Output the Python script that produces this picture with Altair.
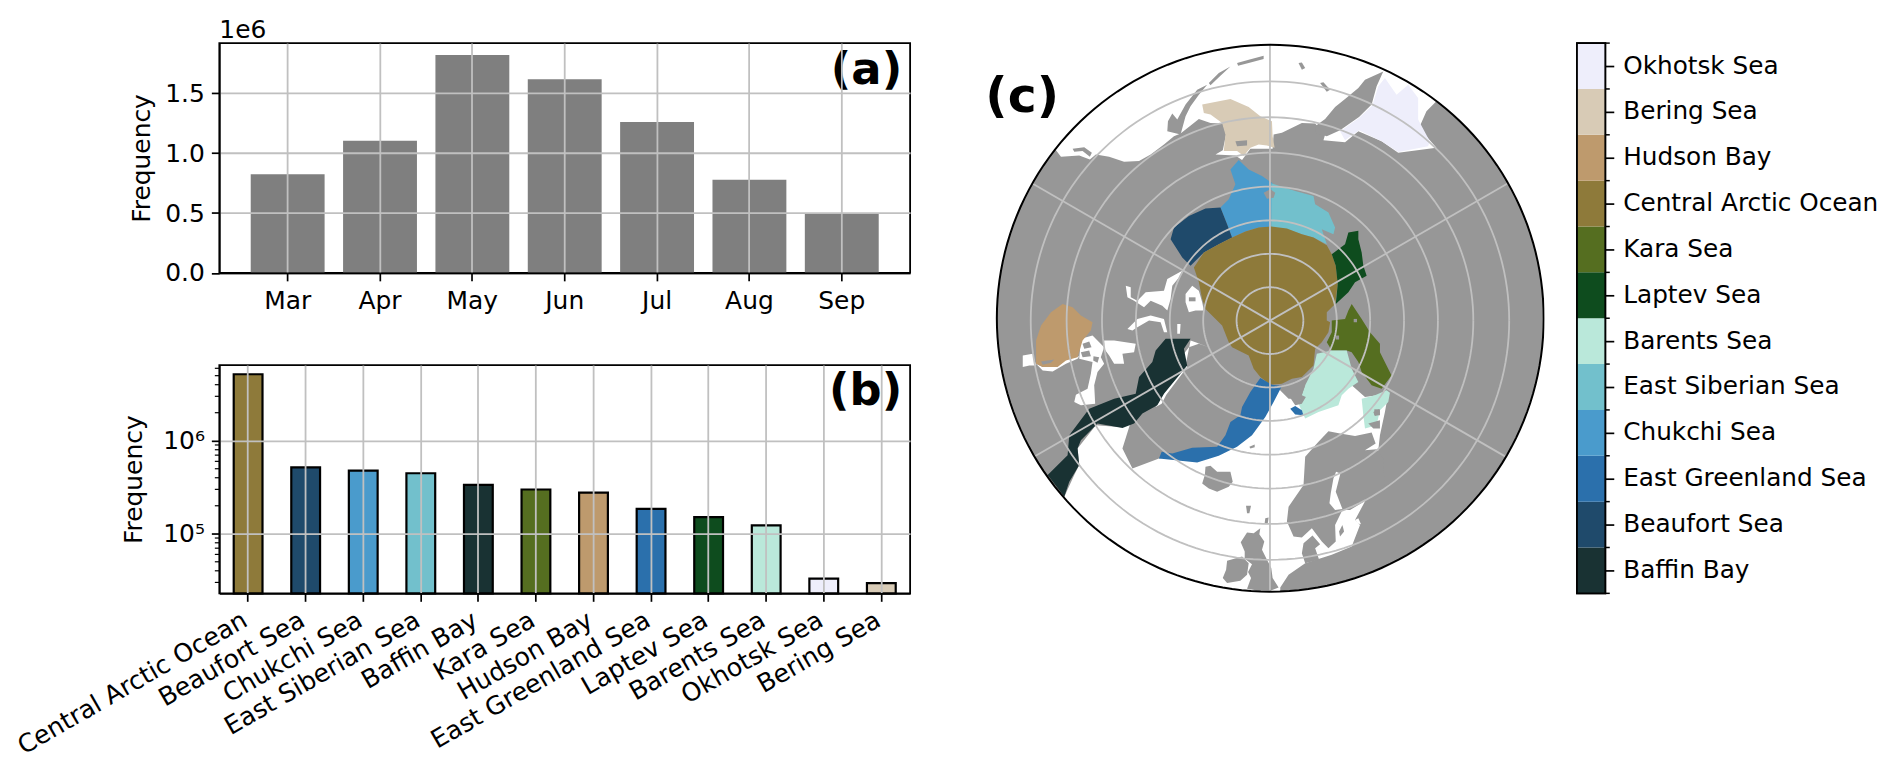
import math
import altair as alt

FONT = "DejaVu Sans"
months = ["Mar", "Apr", "May", "Jun", "Jul", "Aug", "Sep"]
month_freq = [825000, 1105000, 1820000, 1617000, 1260000, 778000, 497000]

seas = ["Central Arctic Ocean", "Beaufort Sea", "Chukchi Sea", "East Siberian Sea", "Baffin Bay", "Kara Sea",
        "Hudson Bay", "East Greenland Sea", "Laptev Sea", "Barents Sea", "Okhotsk Sea", "Bering Sea"]
sea_freq = [5180000, 518000, 477000, 447000, 335000, 299000, 277000, 185000, 151000, 123000, 33000, 29500]

bar_order = ["Baffin Bay", "Beaufort Sea", "East Greenland Sea", "Chukchi Sea", "East Siberian Sea", "Barents Sea",
             "Laptev Sea", "Kara Sea", "Central Arctic Ocean", "Hudson Bay", "Bering Sea", "Okhotsk Sea"]
bar_colors = ["#193233", "#1F4A6B", "#2B70AC", "#4A9BCC", "#72C0CC", "#BAE8DA",
              "#0E4C1E", "#556E20", "#8E7A3A", "#BE9A6D", "#D8CBB6", "#EEEEFB"]
sea_color = dict(zip(bar_order, bar_colors))

LAND, WHITE = "#979797", "#ffffff"
GRID = "#c0c0c0"


def z1(p): return [[800 + x / 3, 20 + y / 3] for x, y in p]
def z2(p): return [[800 + x / 3, 260 + y / 3] for x, y in p]
def z3(p): return [[1280 + x / 3, 20 + y / 3] for x, y in p]
def z6(p): return [[1100 + x / 3, 380 + y / 3] for x, y in p]
def z7(p): return [[1130 + x / 3, 170 + y / 3] for x, y in p]
def z10(p): return [[1020 + x / 3, 270 + y / 3] for x, y in p]


DISK = (1268.3, 319.3, 274.3)
POLE = (1268.0, 321.7)
circle_radii = [33.5, 67, 100.5, 134.5, 168.5, 204, 240]

ocean_pacific = z1([(760, 392), (775, 412), (830, 408), (862, 420), (880, 405), (920, 412), (965, 427), (1010, 425),
                    (1045, 405), (1085, 375), (1115, 350), (1135, 342), (1190, 298), (1225, 310), (1262, 312),
                    (1272, 345), (1262, 392), (1240, 405), (1300, 408), (1320, 422), (1345, 388), (1412, 388),
                    (1415, 345), (1440, 340)]) + z3(
    [(60, 310), (100, 312), (130, 345), (125, 362), (190, 368), (230, 335), (300, 365), (350, 400), (465, 385),
     (430, 345), (415, 320), (435, 275), (470, 240), (450, 230)]) + [[1430, 30], [1050, 30]]

ocean_atlantic = z6([(-115, 355), (-85, 290), (-70, 260), (-75, 210), (-20, 140), (50, 145), (85, 130), (60, 210),
                     (90, 270), (170, 240), (220, 235), (285, 235), (350, 220), (400, 190), (440, 150), (475, 100),
                     (505, 50), (530, 30), (560, 60), (610, 60), (650, 40), (700, 20), (750, 20), (790, 55),
                     (860, 45), (850, 100), (835, 170), (830, 215), (820, 240), (795, 360), (760, 425), (775, 440),
                     (750, 505), (690, 530), (610, 555), (560, 590), (535, 628), (535, 700), (-200, 700), (-200, 355)])

land_scandinavia = z6([(650, 190), (680, 158), (715, 165), (760, 172), (810, 162), (822, 195), (790, 215), (825, 212),
                       (845, 240), (850, 340), (800, 362), (745, 395), (722, 395), (700, 440), (702, 490), (680, 510),
                       (660, 490), (630, 450), (600, 478), (575, 475), (555, 430), (560, 385), (605, 320), (610, 235)])
land_denmark = z6([(600, 525), (605, 495), (632, 472), (655, 498), (640, 510), (652, 545), (610, 555)])
land_gotland = z6([(712, 460), (722, 440), (727, 460), (715, 475)])
land_britain = z6([(475, 450), (472, 468), (487, 490), (480, 515), (495, 545), (508, 570), (512, 600), (530, 628),
                   (505, 638), (470, 638), (435, 632), (447, 600), (438, 582), (450, 558), (428, 542), (428, 520),
                   (416, 492), (435, 463), (455, 465)])
land_ireland = z6([(375, 548), (420, 535), (440, 555), (435, 590), (415, 608), (375, 615), (362, 600), (372, 575)])
land_iceland = z6([(310, 265), (325, 262), (345, 280), (385, 280), (392, 310), (380, 325), (345, 340), (320, 330),
                   (300, 315), (308, 290)])
land_faroe = z6([(432, 382), (447, 382), (442, 405), (435, 405)])
land_shetland = z6([(490, 420), (500, 418), (497, 438), (488, 435)])
land_jan_mayen = z6([(442, 205), (458, 198), (458, 206), (445, 210)])
land_svalbard = z6([(540, 25), (590, 0), (610, 20), (600, 50), (612, 55), (600, 75), (580, 80), (560, 50)])
land_bear = z6([(815, 100), (832, 92), (835, 108), (820, 112)])
land_kolguev = z6([(800, 135), (835, 125), (835, 150), (815, 150)])
land_kamchatka = z3([(100, 320), (130, 298), (160, 262), (190, 238), (230, 205), (250, 180), (305, 155), (285, 200),
                     (270, 255), (232, 292), (175, 332), (135, 350), (100, 340)])
land_alaska_pen = z1([(1095, 335), (1097, 305), (1110, 282), (1125, 300), (1150, 255), (1185, 210), (1215, 195),
                      (1190, 225), (1165, 260), (1150, 290), (1135, 345)])
land_chain_1 = z1([(1220, 190), (1250, 160), (1285, 140), (1255, 168), (1225, 197)])
land_chain_2 = z1([(1305, 130), (1340, 120), (1385, 108), (1385, 118), (1340, 130), (1308, 138)])
land_chain_3 = z3([(50, 130), (60, 128), (70, 145), (60, 150)])
land_chain_4 = z3([(115, 190), (125, 188), (145, 210), (135, 216)])
land_vancouver = z1([(810, 388), (845, 383), (868, 400), (862, 412), (840, 395), (815, 397)])
land_st_lawrence = z1([(1300, 365), (1335, 362), (1335, 378), (1305, 380)])
land_wrangel = z7([(395, 70), (415, 60), (430, 70), (425, 85), (405, 88)])

white_bothnia = z6([(703, 280), (716, 285), (702, 340), (722, 392), (700, 395), (683, 375), (687, 345), (695, 300)])
white_ladoga = z6([(760, 425), (770, 420), (778, 438), (768, 436)])
white_james = z10([(0, 260), (30, 255), (40, 290), (20, 290), (0, 295)])
white_rim = z10([(40, 285), (60, 305), (90, 308), (130, 285), (165, 270), (170, 262), (130, 272), (105, 292), (60, 295)])
white_foxe = z10([(175, 210), (210, 200), (245, 235), (235, 265), (245, 285), (225, 310), (215, 350), (218, 405),
                  (175, 410), (155, 400), (160, 378), (195, 360), (205, 315), (210, 280), (170, 270)])
white_boothia = z10([(245, 215), (275, 215), (340, 225), (335, 250), (300, 255), (305, 285), (275, 285), (260, 260),
                     (245, 240)])
white_coronation = z10([(315, 180), (345, 150), (385, 140), (425, 150), (435, 190), (425, 190), (415, 160), (380, 155),
                        (345, 175), (330, 185)])
white_parry = z10([(310, 50), (325, 55), (325, 85), (345, 95), (370, 70), (425, 65), (435, 30), (480, 5), (470, 25),
                   (450, 50), (445, 90), (435, 125), (420, 110), (385, 95), (365, 115), (335, 95), (315, 85)])
white_sverdrup = z10([(490, 75), (510, 50), (530, 65), (540, 100), (545, 125), (520, 125), (500, 130), (490, 100)])
white_strip = z10([(465, 165), (475, 165), (473, 195), (465, 195)])
white_nares = z2([(1165, 245), (1180, 250), (1220, 265), (1190, 255), (1160, 265), (1145, 285), (1155, 325), (1130, 358),
                  (1092, 408), (1078, 435), (1060, 445), (1075, 420), (1087, 400), (1130, 345), (1150, 320)])
land_foxe_1 = z10([(180, 225), (200, 218), (207, 235), (185, 240)])
land_foxe_2 = z10([(175, 250), (200, 245), (205, 262), (180, 265)])
land_foxe_3 = z10([(213, 262), (230, 265), (225, 282), (212, 275)])
land_sverdrup = z10([(500, 85), (520, 85), (520, 97), (500, 97)])
land_hudson = z10([(55, 278), (95, 272), (85, 282), (60, 288)])

sea_okhotsk = z3([(175, 335), (232, 295), (272, 258), (290, 200), (310, 175), (345, 225), (380, 195), (410, 235),
                  (410, 300), (445, 365), (440, 380), (350, 398), (300, 365), (232, 332), (190, 362)])
sea_bering = z1([(1200, 255), (1285, 238), (1340, 262), (1375, 290), (1410, 305), (1412, 350), (1418, 385), (1395, 378),
                 (1370, 375), (1345, 385), (1325, 410), (1305, 395), (1265, 395), (1270, 345), (1260, 310), (1225, 285),
                 (1205, 280)])
sea_chukchi = z1([(1310, 422), (1340, 450), (1380, 470), (1412, 492)]) + z7(
    [(418, 175), (380, 175), (340, 187), (300, 205), (285, 165), (265, 115), (290, 90), (310, 45), (295, 0)])
sea_beaufort = z7([(265, 115), (285, 165), (300, 205), (260, 225), (215, 250), (175, 290), (150, 265), (115, 210),
                   (125, 175), (170, 140), (220, 118)])
sea_east_siberian = z7([(418, 42), (490, 65), (545, 80), (550, 105), (590, 130), (610, 175), (605, 195), (570, 180),
                        (585, 225), (545, 205), (510, 195), (465, 180), (418, 175)])
sea_central = z7([(418, 172), (465, 178), (510, 195), (545, 205), (585, 228), (600, 255), (612, 290), (618, 345),
                  (610, 405), (585, 430), (585, 455), (595, 460), (590, 490), (570, 520), (550, 540), (545, 590),
                  (510, 625), (480, 630), (450, 645), (415, 648), (385, 625), (365, 600), (350, 560), (300, 535),
                  (290, 520), (270, 470), (220, 420), (210, 390), (200, 340), (185, 295), (215, 250), (260, 225),
                  (300, 205), (340, 187), (380, 175)])
sea_laptev = z7([(600, 255), (640, 225), (650, 190), (680, 185), (680, 210), (690, 250), (695, 290), (705, 320),
                 (670, 340), (650, 370), (612, 405), (618, 345), (612, 290)])
sea_kara = z7([(660, 405), (690, 450), (715, 490), (745, 525), (745, 550), (780, 620), (750, 660), (720, 650),
               (690, 610), (680, 580), (660, 550), (645, 545), (600, 545), (585, 520), (600, 490), (600, 455),
               (640, 450), (650, 425)])
sea_barents_main = z7([(555, 555), (600, 545), (645, 545), (660, 600), (680, 640), (650, 660), (630, 680), (620, 710),
                       (560, 730), (520, 750), (500, 705), (520, 650), (545, 600)])
sea_barents_east = z7([(690, 690), (730, 680), (765, 665), (775, 672), (770, 700), (745, 725), (735, 770), (700, 780),
                       (695, 740)])
sea_greenland = z6([(475, -2), (510, 18), (540, 22), (515, 70), (490, 115), (450, 170), (405, 205), (350, 232),
                    (285, 252), (220, 245), (170, 240), (178, 220), (210, 225), (270, 208), (345, 205), (370, 170),
                    (385, 130), (415, 110), (420, 85), (445, 40)])
sea_greenland_small = z6([(565, 90), (580, 82), (600, 95), (605, 110), (580, 108)])
sea_hudson = z10([(40, 215), (55, 170), (85, 130), (120, 105), (150, 115), (175, 140), (210, 160), (205, 185),
                  (180, 215), (165, 265), (130, 275), (105, 295), (60, 295), (40, 285)])
sea_baffin = z2([(1090, 240), (1165, 240), (1145, 270), (1155, 320), (1130, 350), (1085, 405), (1065, 440), (1020, 465),
                 (995, 495), (960, 508), (885, 495), (835, 545), (825, 570), (830, 620), (800, 670), (785, 715),
                 (735, 650), (795, 590), (800, 530), (860, 450), (935, 420), (1000, 405), (1010, 355), (1050, 310),
                 (1060, 275)])
land_kara_1 = z7([(612, 500), (622, 500), (622, 512), (612, 512)])
land_kara_2 = z7([(666, 450), (676, 450), (676, 460), (666, 460)])
land_barents_dot = z7([(728, 722), (745, 722), (745, 740), (728, 740)])


def polygon(ring, fill):
    return {"type": "Feature", "properties": {"fill": fill},
            "geometry": {"type": "Polygon", "coordinates": [ring + [ring[0]]]}}


def line(points):
    return {"type": "Feature", "properties": {}, "geometry": {"type": "LineString", "coordinates": points}}


def arc(cx, cy, r):
    return [[cx + r * math.cos(math.radians(a)), cy + r * math.sin(math.radians(a))] for a in range(0, 361, 2)]


def spoke(angle):
    dx, dy = math.cos(math.radians(angle)), math.sin(math.radians(angle))
    ox, oy = POLE[0] - DISK[0], POLE[1] - DISK[1]
    b = ox * dx + oy * dy
    t = -b + math.sqrt(b * b - (ox * ox + oy * oy - DISK[2] ** 2))
    return [[POLE[0], POLE[1]], [POLE[0] + t * dx, POLE[1] + t * dy]]


shapes = [(arc(*DISK)[:-1], LAND), (ocean_pacific, WHITE), (ocean_atlantic, WHITE)]
shapes += [(r, LAND) for r in [land_scandinavia, land_denmark, land_gotland, land_britain, land_ireland, land_iceland,
                               land_faroe, land_shetland, land_jan_mayen, land_kamchatka, land_alaska_pen,
                               land_chain_1, land_chain_2, land_chain_3, land_chain_4, land_vancouver]]
shapes += [(r, WHITE) for r in [white_bothnia, white_ladoga, white_james, white_rim, white_foxe, white_boothia,
                                white_coronation, white_parry, white_sverdrup, white_strip, white_nares]]
shapes += [(sea_okhotsk, sea_color["Okhotsk Sea"]), (sea_bering, sea_color["Bering Sea"]),
           (sea_chukchi, sea_color["Chukchi Sea"]), (sea_beaufort, sea_color["Beaufort Sea"]),
           (sea_east_siberian, sea_color["East Siberian Sea"]), (sea_central, sea_color["Central Arctic Ocean"]),
           (sea_laptev, sea_color["Laptev Sea"]), (sea_kara, sea_color["Kara Sea"]),
           (sea_barents_main, sea_color["Barents Sea"]), (sea_barents_east, sea_color["Barents Sea"]),
           (sea_greenland, sea_color["East Greenland Sea"]), (sea_greenland_small, sea_color["East Greenland Sea"]),
           (sea_hudson, sea_color["Hudson Bay"]), (sea_baffin, sea_color["Baffin Bay"])]
shapes += [(r, LAND) for r in [land_st_lawrence, land_wrangel, land_svalbard, land_bear, land_kolguev, land_foxe_1,
                               land_foxe_2, land_foxe_3, land_sverdrup, land_hudson, land_kara_1, land_kara_2,
                               land_barents_dot]]
features = [polygon(r, c) for r, c in shapes]
graticule = [line(arc(POLE[0], POLE[1], r)) for r in circle_radii] + [line(spoke(a)) for a in range(30, 360, 60)]

W_A, H_A, H_B = 693, 230.5, 229
MAP_LEFT = 938
MAP_W, MAP_H = 605.5, 552
CB_W, CB_H = 28.4, 552
TICK_FONT = 25
projection = alt.Projection(type="identity", scale=1, translate=[-MAP_LEFT, -43.3])
one_row = alt.Data(values=[{"v": 0}])


def label(text, x, y, size=45, align="right"):
    return alt.Chart(one_row).mark_text(text=text, font=FONT, fontSize=size, fontWeight="bold", align=align,
                                        baseline="alphabetic", color="black").encode(x=alt.value(x), y=alt.value(y))


axis_common = dict(grid=True, gridColor=GRID, gridWidth=1.8, domainColor="black", domainWidth=1.7, tickColor="black",
                   tickWidth=1.7, tickSize=8, labelFont=FONT, labelFontSize=TICK_FONT, labelColor="black", zindex=1,
                   titleFont=FONT, titleFontSize=TICK_FONT, titleFontWeight="normal", titleColor="black")

a_bars = alt.Chart(alt.Data(values=[{"m": m, "f": f} for m, f in zip(months, month_freq)])).mark_bar(color="#7f7f7f").encode(
    x=alt.X("m:N", sort=months, title=None,
            scale=alt.Scale(paddingInner=0.2, paddingOuter=0.34),
            axis=alt.Axis(labelAngle=0, labelPadding=8, **axis_common)),
    y=alt.Y("f:Q", title="Frequency", scale=alt.Scale(domain=[0, 1920000], nice=False),
            axis=alt.Axis(values=[0, 500000, 1000000, 1500000], labelExpr="format(datum.value/1000000,'.1f')",
                          titlePadding=10, labelPadding=7, **axis_common)))
a_offset = alt.Chart(one_row).mark_text(text="1e6", font=FONT, fontSize=TICK_FONT, align="left", baseline="alphabetic",
                                        color="black").encode(x=alt.value(0), y=alt.value(-5))
panel_a = alt.layer(a_bars, a_offset, label("(a)", 685, 41)).properties(width=W_A, height=H_A)

BASE = 22900
b_rows = [{"s": s, "f": f, "b": BASE, "c": sea_color[s]} for s, f in zip(seas, sea_freq)]
minor_ticks = [30000, 40000, 50000, 60000, 70000, 80000, 90000, 200000, 300000, 400000, 500000, 600000, 700000, 800000,
               900000, 2000000, 3000000, 4000000, 5000000, 6000000]
b_scale = alt.Scale(type="log", domain=[BASE, 6500000], nice=False)
b_yaxis = alt.Axis(values=[100000, 1000000], labelExpr="datum.value == 100000 ? '10⁵' : '10⁶'",
                   titlePadding=16, labelPadding=7, **axis_common)
b_x_style = dict(axis_common)
b_x_style["labelFontSize"] = 25.3
b_bars = alt.Chart(alt.Data(values=b_rows)).mark_bar(stroke="black", strokeWidth=2.2).encode(
    x=alt.X("s:N", sort=seas, title=None, scale=alt.Scale(paddingInner=0.5, paddingOuter=0.25),
            axis=alt.Axis(labelAngle=330, labelAlign="right", labelBaseline="top", labelPadding=6, labelOffset=-9,
                          labelOverlap=False, labelLimit=0, **b_x_style)),
    y=alt.Y("f:Q", title="Frequency", scale=b_scale, axis=b_yaxis),
    y2="b:Q",
    color=alt.Color("c:N", scale=None))
b_minor = alt.Chart(alt.Data(values=[{"t": t} for t in minor_ticks])).mark_rule(color="black", strokeWidth=1.2).encode(
    y=alt.Y("t:Q", title="Frequency", scale=b_scale, axis=b_yaxis), x=alt.value(-4.5), x2=alt.value(0))
panel_b = alt.layer(b_bars, b_minor, label("(b)", 685, 40)).properties(width=W_A, height=H_B)

map_land = alt.Chart(alt.InlineData(values={"type": "FeatureCollection", "features": features},
                                    format=alt.DataFormat(property="features", type="json"))).mark_geoshape(
    strokeWidth=0).encode(fill=alt.Fill("properties.fill:N", scale=None)).project(**projection.to_dict())
map_grid = alt.Chart(alt.InlineData(values={"type": "FeatureCollection", "features": graticule},
                                    format=alt.DataFormat(property="features", type="json"))).mark_geoshape(
    filled=False, stroke=GRID, strokeWidth=1.8).project(**projection.to_dict())
map_edge = alt.Chart(alt.InlineData(values={"type": "FeatureCollection", "features": [line(arc(*DISK))]},
                                    format=alt.DataFormat(property="features", type="json"))).mark_geoshape(
    filled=False, stroke="black", strokeWidth=2).project(**projection.to_dict())
panel_c = alt.layer(map_land, map_grid, map_edge, label("(c)", 44.5, 69.5, size=49, align="left")).properties(
    width=MAP_W, height=MAP_H, view=alt.ViewConfig(stroke=None))

cb_rows = [{"s": s, "i": i, "j": i + 1, "c": c} for i, (s, c) in enumerate(zip(bar_order, bar_colors))]
cb_scale = alt.Scale(domain=[0, 12], nice=False, zero=False)
label_list = "[" + ",".join("'" + s + "'" for s in bar_order) + "]"
cb_axis = alt.Axis(orient="right", values=[i + 0.5 for i in range(12)], grid=False, domain=False,
                   tickColor="black", tickWidth=1.7, tickSize=8.5, labelPadding=9, labelFont=FONT,
                   labelFontSize=24.8, labelColor="black", labelLimit=0, labelOverlap=False,
                   labelExpr=label_list + "[floor(datum.value)]")
cb_rect = alt.Chart(alt.Data(values=cb_rows)).mark_rect().encode(
    x=alt.value(0), x2=alt.value(CB_W),
    y=alt.Y("i:Q", title=None, scale=cb_scale, axis=cb_axis),
    y2="j:Q",
    color=alt.Color("c:N", scale=None))
cb_minor = alt.Chart(alt.Data(values=[{"t": t} for t in range(13)])).mark_rule(color="black", strokeWidth=1.5).encode(
    y=alt.Y("t:Q", title=None, scale=cb_scale, axis=cb_axis), x=alt.value(CB_W), x2=alt.value(CB_W + 4.5))
cb_frame = alt.Chart(one_row).mark_rect(fill=None, stroke="black", strokeWidth=1.8).encode(
    x=alt.value(0), x2=alt.value(CB_W), y=alt.value(0), y2=alt.value(CB_H))
panel_cb = alt.layer(cb_rect, cb_minor, cb_frame).properties(width=CB_W, height=CB_H)

left = alt.vconcat(panel_a, panel_b, spacing=92, bounds="flush")
chart = alt.hconcat(left, panel_c, panel_cb, spacing=30).resolve_scale(color="independent").properties(
    padding={"left": 4, "top": 8, "right": 5, "bottom": 5}, background="white"
).configure_view(stroke="black", strokeWidth=1.8)

chart.save("out.html", embed_options={"renderer": "svg", "actions": False})
